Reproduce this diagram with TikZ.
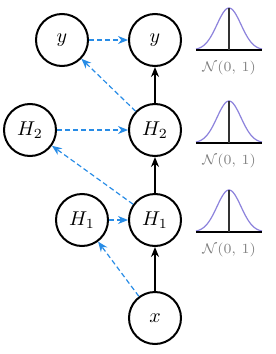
\documentclass[tikz,border=0pt]{standalone}
\usetikzlibrary{arrows.meta}

\begin{document}
\begin{tikzpicture}[x=0.5pt,y=-0.5pt,
  unit/.style={draw,circle,line width=1pt,minimum size=26pt,inner sep=0pt},
  feed/.style={-{Stealth[length=5pt,width=4pt]},thick},
  skip/.style={-{Stealth[length=5pt,width=4pt]},dash pattern=on 2.5pt off 1.5pt,line width=0.6pt,color=skipblue},
  bell/.style={color=bellblue,semithick}]
\definecolor{skipblue}{RGB}{40,140,230}
\definecolor{bellblue}{RGB}{140,130,220}
\useasboundingbox (0,0) rectangle (276,354);
\node[unit] (yl) at (62,40) {$y$};
\node[unit] (yr) at (155,40) {$y$};
\node[unit] (hl2) at (30,130) {$H_2$};
\node[unit] (hr2) at (155,130) {$H_2$};
\node[unit] (hl1) at (82,220) {$H_1$};
\node[unit] (hr1) at (155,220) {$H_1$};
\node[unit] (x) at (155,318) {$x$};
\draw[feed] (x) -- (hr1);
\draw[feed] (hr1) -- (hr2);
\draw[feed] (hr2) -- (yr);
\draw[skip] (x) -- (hl1);
\draw[skip] (hl1) -- (hr1);
\draw[skip] (hr1) -- (hl2);
\draw[skip] (hl2) -- (hr2);
\draw[skip] (hr2) -- (yl);
\draw[skip] (yl) -- (yr);
% noise on the right
\foreach \base/\k in {50/a,143/b,232/c} {
  \draw[bell] plot[domain=-33:33,samples=60] ({229+\x},{\base-42*exp(-(\x/12)^2/2)});
  \draw[semithick] (196,\base) -- (262,\base);
  \draw[semithick,black!80] (229,\base) -- (229,\base-42);
  \node[text=gray,font=\scriptsize,inner sep=0pt] (lab\k) at (229,\base+18) {$\mathcal{N}(0,\,1)$};
}
\end{tikzpicture}
\end{document}
